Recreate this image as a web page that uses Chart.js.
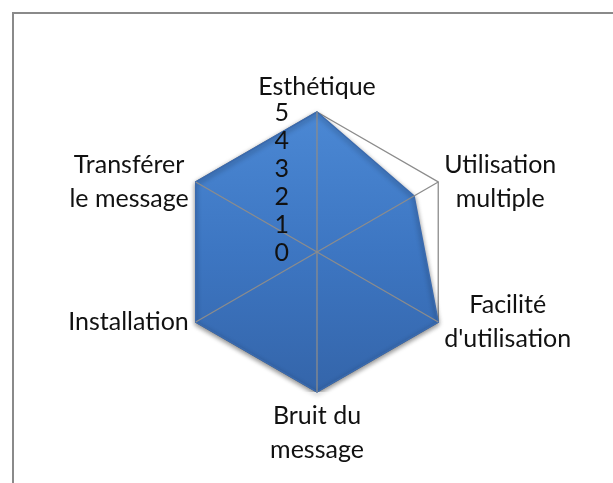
<!DOCTYPE html>
<html>
<head>
<meta charset="utf-8">
<script src="https://cdn.jsdelivr.net/npm/chart.js@4/dist/chart.umd.min.js"></script>
<style>
    body { margin: 0; background: #fff; }
    #frame {
        position: absolute; left: 12px; top: 12px; width: 700px; height: 600px;
        border-top: 2px solid #8a8a8a; border-left: 2px solid #8a8a8a;
    }
    #radar { position: absolute; left: 0; top: 0; }
</style>
</head>
<body>
<div id="frame"></div>
<canvas id="radar" width="613" height="483"></canvas>
<script>
// axes of the radar (multi-line labels)
const categories = [
    ['Esthétique'],
    ['Utilisation', 'multiple'],
    ['Facilité', "d'utilisation"],
    ['Bruit du', 'message'],
    ['Installation'],
    ['Transférer', 'le message']
];
const scores = [5, 4, 5, 5, 5, 5];
const tickValues = [0, 1, 2, 3, 4, 5];

const FONT = '25px Lato';
const GREY = '#8c8c8c';

// point labels + tick labels, positioned from the scale
const labelPlugin = {
    id: 'labels',
    afterDraw(chart) {
        const scale = chart.scales.r;
        const ctx = chart.ctx;
        ctx.save();
        ctx.font = FONT;
        ctx.fillStyle = '#111';
        ctx.textBaseline = 'middle';

        // tick numbers, left of the vertical axis
        ctx.textAlign = 'right';
        tickValues.forEach(v => {
            const d = scale.getDistanceFromCenterForValue(v);
            ctx.fillText(String(v), scale.xCenter - 28, scale.yCenter - d + 1);
        });

        const lh = 34;
        categories.forEach((lines, i) => {
            const p = scale.getPointPosition(i, scale.drawingArea);
            const w = Math.max(...lines.map(t => ctx.measureText(t).width));
            const dx = p.x - scale.xCenter;
            let cx, cy;
            if (Math.abs(dx) < 1) {
                cx = p.x;
                if (p.y < scale.yCenter) cy = p.y - 25 - (lines.length - 1) * lh / 2;
                else cy = p.y + 24 + (lines.length - 1) * lh / 2;
            } else if (dx > 0) {
                cx = p.x + 6 + w / 2;
                cy = p.y;
            } else {
                cx = p.x - 7 - w / 2;
                cy = p.y;
            }
            ctx.textAlign = 'center';
            lines.forEach((t, k) => {
                ctx.fillText(t, cx, cy + (k - (lines.length - 1) / 2) * lh);
            });
        });
        ctx.restore();
    }
};

// soft shadow under the filled area
const shadowPlugin = {
    id: 'shadow',
    beforeDatasetsDraw(chart) {
        const ctx = chart.ctx;
        ctx.save();
        ctx.shadowColor = 'rgba(0,0,0,0.45)';
        ctx.shadowBlur = 5;
        ctx.shadowOffsetY = 2;
    },
    afterDatasetsDraw(chart) {
        chart.ctx.restore();
    }
};

function fillGradient(context) {
    const area = context.chart.chartArea;
    if (!area) return '#3f78c4';
    const g = context.chart.ctx.createLinearGradient(0, area.top, 0, area.bottom);
    g.addColorStop(0, '#4b88d4');
    g.addColorStop(0.5, '#3d76c2');
    g.addColorStop(1, '#3465aa');
    return g;
}

const ctx = document.getElementById('radar').getContext('2d');
new Chart(ctx, {
    type: 'radar',
    data: {
        labels: categories,
        datasets: [{
            data: scores,
            rAxisID: 'r',
            backgroundColor: fillGradient,
            borderColor: '#3a6aae',
            borderWidth: 1.5,
            fill: true,
            pointRadius: 0,
            clip: false
        }]
    },
    options: {
        responsive: false,
        animation: false,
        layout: { padding: { left: 177, right: 156, top: 112, bottom: 91 } },
        plugins: { legend: { display: false }, tooltip: { enabled: false } },
        scales: {
            r: {
                axis: 'r',
                min: 0,
                max: 5,
                ticks: { stepSize: 1, display: false },
                pointLabels: { display: false },
                angleLines: { display: false },
                grid: {
                    color: c => c.tick && c.tick.value === 5 ? GREY : 'rgba(0,0,0,0)',
                    lineWidth: 1.3
                }
            },
            // second scale only for the spokes, drawn above the filled area
            r2: {
                type: 'radialLinear',
                axis: 'r',
                min: 0,
                max: 5,
                ticks: { stepSize: 1, display: false },
                pointLabels: { display: false },
                grid: { display: false, z: 1 },
                angleLines: { color: GREY, lineWidth: 1.3 }
            }
        }
    },
    plugins: [shadowPlugin, labelPlugin]
});
</script>
</body>
</html>
